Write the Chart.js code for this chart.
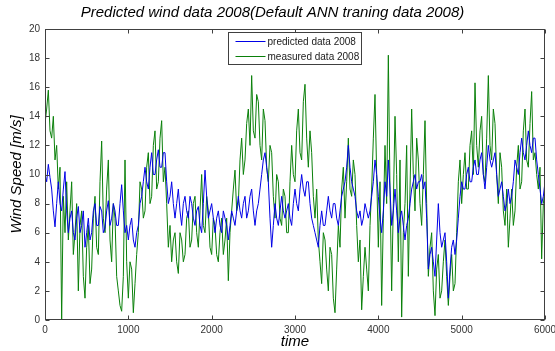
<!DOCTYPE html>
<html>
<head>
<meta charset="utf-8">
<script src="https://cdn.jsdelivr.net/npm/chart.js@4.4.1/dist/chart.umd.min.js"></script>
<style>
  html, body { margin: 0; padding: 0; background: #ffffff; }
  #c { display: block; }
</style>
</head>
<body>
<canvas id="c" width="555" height="351"></canvas>
<script>
// ---- data ----
const timeStep = 20; // time units between samples
const predicted = [
  10.0,9.5,10.7,9.8,9.0,7.5,6.4,8.0,9.5,8.0,
  7.5,9.0,10.2,7.5,6.0,7.0,7.5,6.0,5.5,7.0,
  7.8,6.0,6.5,7.5,5.0,6.0,7.0,5.5,6.0,7.5,
  8.0,6.5,6.5,7.8,7.5,6.0,6.3,7.5,8.2,6.5,
  7.0,8.0,7.5,6.5,6.5,8.0,9.3,7.5,6.0,6.5,
  5.5,6.5,7.0,5.5,5.0,6.0,6.5,8.0,8.5,9.5,
  10.5,9.5,9.0,10.5,11.5,10.0,10.0,11.0,11.7,10.5,
  10.5,11.5,11.5,9.5,8.0,8.5,9.5,8.0,7.0,8.0,
  9.0,7.5,6.5,8.0,8.5,7.5,7.0,8.5,8.0,7.0,
  6.5,7.5,7.8,6.5,6.0,8.0,10.3,8.5,7.0,7.5,
  8.0,7.0,6.0,7.0,7.5,6.5,6.0,7.5,7.0,6.5,
  5.5,6.5,7.5,7.0,6.5,7.5,8.5,7.5,7.0,8.0,
  8.5,7.0,7.5,8.5,9.0,7.5,6.5,7.5,8.0,9.0,
  10.0,11.0,11.5,10.5,9.5,7.0,5.0,6.5,8.0,7.0,
  6.5,7.5,8.5,7.5,7.0,7.5,8.0,7.0,6.5,8.0,
  9.0,8.0,7.5,9.0,10.0,9.0,8.5,9.5,9.5,8.0,
  7.0,6.5,6.0,5.5,5.0,6.5,7.5,6.5,6.5,7.5,
  8.5,7.5,7.0,8.0,8.0,7.0,6.5,7.5,8.5,9.0,
  9.5,10.5,12.0,10.5,9.5,9.0,8.5,7.5,7.0,7.5,
  6.5,7.0,8.0,7.5,7.0,7.5,8.5,9.5,11.0,10.0,
  8.5,7.0,6.0,7.5,9.5,8.5,11.0,9.0,6.5,7.5,
  9.0,7.5,6.0,7.0,7.5,6.5,5.5,6.5,7.0,8.0,
  9.0,9.5,10.0,9.0,9.5,9.5,10.0,9.0,9.5,7.0,
  3.5,4.5,5.0,4.0,3.0,5.5,8.0,6.0,5.0,5.5,
  6.0,4.0,1.5,3.5,5.0,5.5,4.5,5.5,7.0,8.5,
  9.5,9.0,9.0,10.0,10.5,9.5,9.5,10.5,11.0,10.0,
  10.0,11.0,11.5,10.0,9.0,10.5,12.0,11.0,10.5,11.0,
  11.5,10.0,8.5,9.0,9.5,8.5,7.5,8.0,9.0,8.0,
  8.5,9.5,11.0,10.5,10.0,11.5,12.5,11.5,11.0,12.0,
  13.0,12.0,11.5,12.5,12.5,11.0,10.0,9.0,8.0,8.5,
  9.5
];
const measured = [
  13.5,14.5,15.8,13.0,12.5,14.0,11.0,12.0,9.0,10.5,
  0.0,8.5,6.0,9.5,5.5,7.5,9.5,4.5,6.0,8.0,
  2.0,6.5,7.5,3.0,1.5,5.0,6.5,2.5,3.5,7.0,
  8.5,5.0,4.5,9.5,12.3,7.0,6.0,9.0,11.0,5.5,
  4.0,8.0,7.0,3.0,2.0,1.0,0.6,3.0,11.0,4.0,
  1.5,4.0,3.5,0.5,2.5,4.5,6.0,9.5,9.0,7.0,
  7.5,10.5,11.5,8.0,8.5,12.0,13.0,9.0,9.5,12.5,
  13.7,9.5,10.5,8.0,5.0,6.5,4.0,5.5,6.0,4.0,
  3.2,6.0,5.5,4.0,4.5,7.0,7.5,5.0,5.5,8.0,
  8.5,6.0,5.0,7.5,10.0,6.5,6.0,8.5,7.5,5.0,
  4.5,7.0,6.5,4.5,4.0,6.0,7.0,4.5,5.5,7.0,
  2.7,6.0,7.5,9.0,10.3,7.5,8.0,11.0,12.5,10.0,
  11.0,13.5,14.5,12.0,16.8,13.0,12.5,15.5,15.0,12.0,
  11.0,14.5,13.7,10.5,9.5,12.0,11.5,8.5,7.0,10.0,
  9.5,7.0,6.5,9.0,8.5,6.0,6.0,9.5,12.0,10.0,
  9.5,13.0,14.5,11.5,11.0,15.0,16.2,12.5,10.5,13.0,
  11.5,8.5,7.0,9.0,5.5,4.0,2.5,6.0,5.5,3.5,
  2.0,5.0,4.5,1.5,0.5,3.5,6.5,5.0,9.0,10.5,
  7.0,9.5,12.5,9.0,8.5,11.0,10.0,6.5,4.0,5.5,
  0.7,3.0,5.0,3.5,2.0,6.5,9.0,12.5,15.5,10.0,
  5.0,9.5,1.0,7.0,12.0,8.0,18.2,9.0,2.0,8.0,
  14.0,10.0,4.0,11.0,0.2,6.0,8.0,12.0,3.0,9.0,
  14.5,10.0,7.5,12.5,11.0,8.0,6.5,10.0,13.7,8.0,
  3.0,5.0,6.0,2.0,0.3,3.5,4.5,1.5,2.0,4.0,
  5.5,3.0,1.0,3.0,4.5,2.0,2.5,6.0,9.5,11.0,
  8.0,10.0,11.5,9.0,9.0,12.0,13.0,10.0,16.3,12.0,
  10.5,13.0,14.0,10.0,9.5,12.5,16.8,12.0,11.0,14.5,
  13.5,10.0,8.0,11.5,10.5,7.5,6.5,9.0,5.0,7.0,
  9.0,6.5,7.5,10.5,12.0,9.0,9.5,13.0,14.5,11.0,
  10.5,13.5,15.7,11.0,11.5,10.0,9.0,10.5,4.2,8.0,
  9.0
];
const seriesLabels = ['predicted data 2008', 'measured data 2008'];
const xTicks = [0, 1000, 2000, 3000, 4000, 5000, 6000];
const yTicks = [0, 2, 4, 6, 8, 10, 12, 14, 16, 18, 20];
const chartTitle = 'Predicted wind data 2008(Default ANN traning data 2008)';
const xTitle = 'time';
const yTitle = 'Wind Speed [m/s]';

// ---- chart ----
const toPoints = arr => arr.map((v, i) => ({ x: i * timeStep, y: v }));
const tickFont = { family: "'Liberation Sans', Arial, sans-serif", size: 10 };
const labelFont = { family: "'Liberation Sans', Arial, sans-serif", size: 15, style: 'italic', weight: 'normal' };
const axisColor = '#404040';

const framePlugin = {
  id: 'frame',
  afterDatasetsDraw(chart) {
    const { ctx, chartArea: a, scales: { x, y } } = chart;
    ctx.save();
    ctx.strokeStyle = axisColor;
    ctx.lineWidth = 1;
    const L = Math.round(a.left) + 0.5, R = Math.round(a.right) - 0.5;
    const T = Math.round(a.top) + 0.5, B = Math.round(a.bottom) - 0.5;
    ctx.strokeRect(L, T, R - L, B - T);
    const tl = 4;
    ctx.beginPath();
    xTicks.forEach(v => {
      const px = Math.round(x.getPixelForValue(v)) + 0.5;
      ctx.moveTo(px, B); ctx.lineTo(px, B - tl);
      ctx.moveTo(px, T); ctx.lineTo(px, T + tl);
    });
    yTicks.forEach(v => {
      const py = Math.round(y.getPixelForValue(v)) + 0.5;
      ctx.moveTo(L, py); ctx.lineTo(L + tl, py);
      ctx.moveTo(R, py); ctx.lineTo(R - tl, py);
    });
    ctx.stroke();
    ctx.restore();
  },
  afterDraw(chart) {
    const { ctx } = chart;
    const bx = 228.5, by = 32.5, bw = 133, bh = 32;
    ctx.save();
    ctx.fillStyle = '#ffffff';
    ctx.fillRect(bx, by, bw, bh);
    ctx.strokeStyle = axisColor;
    ctx.lineWidth = 1;
    ctx.strokeRect(bx, by, bw, bh);
    const rows = [41.5, 56.5];
    chart.data.datasets.forEach((ds, i) => {
      ctx.strokeStyle = ds.borderColor;
      ctx.beginPath();
      ctx.moveTo(bx + 7, rows[i]);
      ctx.lineTo(bx + 37, rows[i]);
      ctx.stroke();
      ctx.fillStyle = '#202020';
      ctx.font = "10px 'Liberation Sans', Arial, sans-serif";
      ctx.textBaseline = 'middle';
      ctx.textAlign = 'left';
      ctx.fillText(ds.label, bx + 39, rows[i] + 0.5);
    });
    ctx.restore();
  }
};

new Chart(document.getElementById('c'), {
  type: 'line',
  data: {
    datasets: [
      { label: seriesLabels[0], data: toPoints(predicted), borderColor: '#0000e6', borderWidth: 1, pointRadius: 0, tension: 0 },
      { label: seriesLabels[1], data: toPoints(measured), borderColor: '#0a800a', borderWidth: 1, pointRadius: 0, tension: 0 }
    ]
  },
  options: {
    responsive: false,
    animation: false,
    events: [],
    layout: { padding: { left: 0, right: 10, top: 0, bottom: 0 } },
    plugins: {
      legend: { display: false },
      tooltip: { enabled: false },
      title: { display: true, text: chartTitle, font: labelFont, color: '#000000', padding: { top: 4, bottom: 7 } }
    },
    scales: {
      x: {
        type: 'linear', min: 0, max: 6000,
        afterBuildTicks: s => { s.ticks = xTicks.map(v => ({ value: v })); },
        ticks: { font: tickFont, color: '#333333', padding: 4, maxRotation: 0, autoSkip: false, callback: v => String(v) },
        grid: { display: false, drawTicks: false, tickLength: 0 },
        border: { display: false },
        title: { display: true, text: xTitle, font: labelFont, color: '#000000', padding: { top: 0, bottom: 0 } },
        afterFit: s => { s.height = 31; s.paddingLeft = 0; s.paddingRight = 0; }
      },
      y: {
        min: 0, max: 20,
        afterBuildTicks: s => { s.ticks = yTicks.map(v => ({ value: v })); },
        ticks: { font: tickFont, color: '#333333', padding: 5, autoSkip: false, callback: v => String(v) },
        grid: { display: false, drawTicks: false, tickLength: 0 },
        border: { display: false },
        title: { display: true, text: yTitle, font: labelFont, color: '#000000', padding: { top: 8, bottom: 0 } },
        afterFit: s => { s.width = 45; s.paddingTop = 0; s.paddingBottom = 0; }
      }
    }
  },
  plugins: [framePlugin]
});
</script>
</body>
</html>
